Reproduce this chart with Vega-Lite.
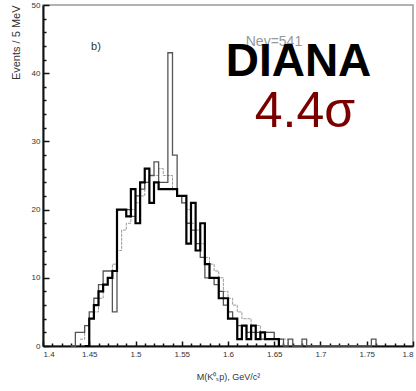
{
  "$schema": "https://vega.github.io/schema/vega-lite/v6.json",
  "autosize": "none",
  "width": 370,
  "height": 341,
  "padding": {"left": 43, "top": 5, "right": 3, "bottom": 45},
  "background": "white",
  "config": {"view": {"stroke": "#999", "strokeWidth": 1.5}, "font": "Liberation Sans"},
  "datasets": {
    "dat": [
      {"m": 1.43, "n": 0}, {"m": 1.435, "n": 2}, {"m": 1.44, "n": 2}, {"m": 1.445, "n": 3},
      {"m": 1.45, "n": 5}, {"m": 1.455, "n": 7}, {"m": 1.46, "n": 9}, {"m": 1.465, "n": 11},
      {"m": 1.47, "n": 11}, {"m": 1.475, "n": 5}, {"m": 1.48, "n": 20}, {"m": 1.485, "n": 20},
      {"m": 1.49, "n": 20}, {"m": 1.495, "n": 19}, {"m": 1.5, "n": 22}, {"m": 1.505, "n": 23},
      {"m": 1.51, "n": 24}, {"m": 1.515, "n": 25}, {"m": 1.52, "n": 27}, {"m": 1.525, "n": 24},
      {"m": 1.53, "n": 24}, {"m": 1.535, "n": 43}, {"m": 1.54, "n": 28}, {"m": 1.545, "n": 22},
      {"m": 1.55, "n": 21}, {"m": 1.555, "n": 18}, {"m": 1.56, "n": 17}, {"m": 1.565, "n": 15},
      {"m": 1.57, "n": 13}, {"m": 1.575, "n": 10}, {"m": 1.58, "n": 10}, {"m": 1.585, "n": 9},
      {"m": 1.59, "n": 8}, {"m": 1.595, "n": 6}, {"m": 1.6, "n": 5}, {"m": 1.605, "n": 4},
      {"m": 1.61, "n": 3}, {"m": 1.615, "n": 3}, {"m": 1.62, "n": 2}, {"m": 1.625, "n": 2},
      {"m": 1.63, "n": 2}, {"m": 1.635, "n": 1}, {"m": 1.64, "n": 2}, {"m": 1.645, "n": 2},
      {"m": 1.65, "n": 1}, {"m": 1.655, "n": 1}, {"m": 1.66, "n": 0}, {"m": 1.665, "n": 1},
      {"m": 1.67, "n": 0}, {"m": 1.68, "n": 1}, {"m": 1.685, "n": 0}, {"m": 1.755, "n": 1},
      {"m": 1.76, "n": 0}
    ],
    "mc": [
      {"m": 1.445, "n": 0}, {"m": 1.45, "n": 4}, {"m": 1.455, "n": 6}, {"m": 1.46, "n": 8},
      {"m": 1.465, "n": 9}, {"m": 1.47, "n": 10}, {"m": 1.475, "n": 11}, {"m": 1.48, "n": 20},
      {"m": 1.485, "n": 20}, {"m": 1.49, "n": 19}, {"m": 1.495, "n": 23}, {"m": 1.5, "n": 18},
      {"m": 1.505, "n": 24}, {"m": 1.51, "n": 26}, {"m": 1.515, "n": 21}, {"m": 1.52, "n": 24},
      {"m": 1.525, "n": 23}, {"m": 1.53, "n": 23}, {"m": 1.535, "n": 23}, {"m": 1.54, "n": 23},
      {"m": 1.545, "n": 22}, {"m": 1.55, "n": 22}, {"m": 1.555, "n": 15}, {"m": 1.56, "n": 21},
      {"m": 1.565, "n": 14}, {"m": 1.57, "n": 18}, {"m": 1.575, "n": 12}, {"m": 1.58, "n": 10},
      {"m": 1.585, "n": 10}, {"m": 1.59, "n": 7}, {"m": 1.595, "n": 7}, {"m": 1.6, "n": 4},
      {"m": 1.605, "n": 4}, {"m": 1.61, "n": 1}, {"m": 1.615, "n": 3}, {"m": 1.62, "n": 1},
      {"m": 1.625, "n": 3}, {"m": 1.63, "n": 1}, {"m": 1.635, "n": 2}, {"m": 1.64, "n": 1},
      {"m": 1.645, "n": 1}, {"m": 1.65, "n": 1}, {"m": 1.655, "n": 0}
    ],
    "fit": [
      {"m": 1.44, "n": 1}, {"m": 1.445, "n": 3}, {"m": 1.45, "n": 4}, {"m": 1.455, "n": 5},
      {"m": 1.46, "n": 7}, {"m": 1.465, "n": 9}, {"m": 1.47, "n": 10}, {"m": 1.475, "n": 12},
      {"m": 1.48, "n": 14}, {"m": 1.485, "n": 17}, {"m": 1.49, "n": 18}, {"m": 1.495, "n": 20},
      {"m": 1.5, "n": 21}, {"m": 1.505, "n": 22}, {"m": 1.51, "n": 24}, {"m": 1.515, "n": 25},
      {"m": 1.52, "n": 25}, {"m": 1.525, "n": 26}, {"m": 1.53, "n": 25}, {"m": 1.535, "n": 25},
      {"m": 1.54, "n": 23}, {"m": 1.545, "n": 22}, {"m": 1.55, "n": 21}, {"m": 1.555, "n": 20},
      {"m": 1.56, "n": 18}, {"m": 1.565, "n": 17}, {"m": 1.57, "n": 15}, {"m": 1.575, "n": 13},
      {"m": 1.58, "n": 12}, {"m": 1.585, "n": 11}, {"m": 1.59, "n": 10}, {"m": 1.595, "n": 8},
      {"m": 1.6, "n": 7}, {"m": 1.605, "n": 6}, {"m": 1.61, "n": 5}, {"m": 1.615, "n": 4},
      {"m": 1.62, "n": 4}, {"m": 1.625, "n": 3}, {"m": 1.63, "n": 3}, {"m": 1.635, "n": 2},
      {"m": 1.64, "n": 2}, {"m": 1.645, "n": 2}, {"m": 1.65, "n": 1}, {"m": 1.655, "n": 1},
      {"m": 1.66, "n": 1}, {"m": 1.665, "n": 0}
    ]
  },
  "layer": [
    {
      "data": {"name": "fit"},
      "mark": {"type": "line", "interpolate": "step-after", "color": "#9a9a9a", "strokeWidth": 1, "strokeDash": [3, 1]},
      "encoding": {
        "x": {"field": "m", "type": "quantitative", "scale": {"domain": [1.4, 1.8], "nice": false, "zero": false},
          "axis": {"orient": "bottom", "values": [1.41,1.42,1.43,1.44,1.46,1.47,1.48,1.49,1.51,1.52,1.53,1.54,1.56,1.57,1.58,1.59,1.61,1.62,1.63,1.64,1.66,1.67,1.68,1.69,1.71,1.72,1.73,1.74,1.76,1.77,1.78,1.79],
            "labels": false, "title": null, "domain": false, "grid": false, "tickSize": -3, "tickColor": "#111", "tickWidth": 1.5}},
        "y": {"field": "n", "type": "quantitative", "scale": {"domain": [0, 50], "nice": false},
          "axis": {"orient": "left", "values": [2,4,6,8,12,14,16,18,22,24,26,28,32,34,36,38,42,44,46,48],
            "labels": false, "title": null, "domain": false, "grid": false, "tickSize": -3, "tickColor": "#111", "tickWidth": 1.5}}
      }
    },
    {
      "data": {"name": "dat"},
      "mark": {"type": "line", "interpolate": "step-after", "color": "#555", "strokeWidth": 1.3},
      "encoding": {
        "x": {"field": "m", "type": "quantitative",
          "axis": {"orient": "bottom", "values": [1.4,1.45,1.5,1.55,1.6,1.65,1.7,1.75,1.8], "format": ".3~f",
            "grid": false, "tickSize": -5, "tickColor": "#111", "tickWidth": 1.5, "domainColor": "#111", "domainWidth": 2,
            "labelFontSize": 8, "labelColor": "#333", "labelPadding": 9,
            "title": "M(K⁰ₛp), GeV/c²", "titleFontSize": 9, "titleFontWeight": "normal", "titleColor": "#333", "titleY": 26, "titleBaseline": "top"}},
        "y": {"field": "n", "type": "quantitative",
          "axis": {"orient": "left", "values": [0,10,20,30,40,50],
            "grid": false, "tickSize": -6, "tickColor": "#111", "tickWidth": 1.5, "domainColor": "#111", "domainWidth": 2,
            "labelFontSize": 8, "labelColor": "#333", "labelPadding": 9,
            "title": "Events / 5 MeV", "titleFontSize": 11, "titleFontWeight": "normal", "titleColor": "#333",
            "titleAnchor": "end", "titleX": -27, "titleY": 0, "titleAlign": "right", "titleBaseline": "middle"}}
      }
    },
    {
      "data": {"name": "mc"},
      "mark": {"type": "line", "interpolate": "step-after", "color": "#000", "strokeWidth": 2.2},
      "encoding": {
        "x": {"field": "m", "type": "quantitative", "axis": null},
        "y": {"field": "n", "type": "quantitative", "axis": null}
      }
    },
    {
      "data": {"values": [{"m": 1.4573, "n": 43.4, "t": "b)"}]},
      "mark": {"type": "text", "fontSize": 11, "color": "#333", "align": "center", "baseline": "alphabetic"},
      "encoding": {"x": {"field": "m", "type": "quantitative", "axis": null}, "y": {"field": "n", "type": "quantitative", "axis": null}, "text": {"field": "t"}}
    },
    {
      "data": {"values": [{"m": 1.6497, "n": 44.0, "t": "Nev=541"}]},
      "mark": {"type": "text", "fontSize": 14, "color": "#999", "align": "center", "baseline": "alphabetic"},
      "encoding": {"x": {"field": "m", "type": "quantitative", "axis": null}, "y": {"field": "n", "type": "quantitative", "axis": null}, "text": {"field": "t"}}
    },
    {
      "data": {"values": [{"m": 1.6762, "n": 39.6, "t": "DIANA"}]},
      "mark": {"type": "text", "fontSize": 46, "fontWeight": "bold", "color": "#000", "align": "center", "baseline": "alphabetic"},
      "encoding": {"x": {"field": "m", "type": "quantitative", "axis": null}, "y": {"field": "n", "type": "quantitative", "axis": null}, "text": {"field": "t"}}
    },
    {
      "data": {"values": [{"m": 1.6832, "n": 32.1, "t": "4.4σ"}]},
      "mark": {"type": "text", "fontSize": 50, "color": "#7a0000", "align": "center", "baseline": "alphabetic"},
      "encoding": {"x": {"field": "m", "type": "quantitative", "axis": null}, "y": {"field": "n", "type": "quantitative", "axis": null}, "text": {"field": "t"}}
    }
  ],
  "resolve": {"axis": {"x": "independent", "y": "independent"}}
}
